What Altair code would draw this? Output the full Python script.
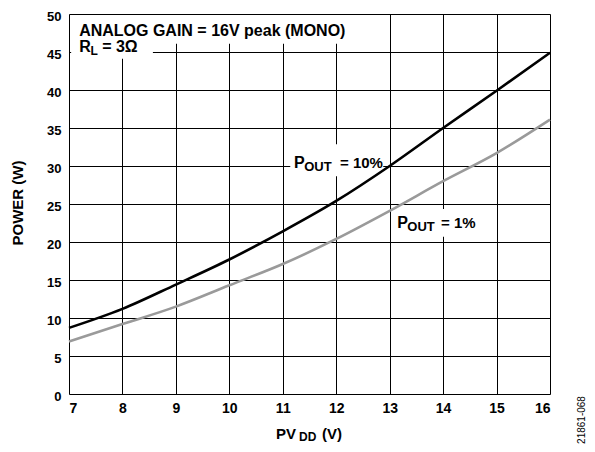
import altair as alt
import pandas as pd

# ---- data ----
pvdd = [7, 8, 9, 10, 11, 12, 13, 14, 15, 16]
power_10pct = [8.7, 11.2, 14.4, 17.7, 21.4, 25.4, 30.0, 35.0, 39.9, 44.9]
power_1pct = [6.9, 9.2, 11.5, 14.3, 17.1, 20.4, 24.1, 28.0, 31.7, 36.1]
series_names = ["10%", "1%"]
series_colors = ["#000000", "#9a9a9a"]
x_ticks = list(range(7, 17))
y_ticks = list(range(0, 51, 5))

# annotation text pieces (data coordinates) : text, x, y, font size
ann_text = ["ANALOG GAIN = 16V peak (MONO)", "R", "L", "= 3Ω",
            "P", "OUT", "= 10%",
            "P", "OUT", "= 1%"]
ann_x = [7.19, 7.19, 7.40, 7.62,
         11.21, 11.40, 12.07,
         13.14, 13.33, 13.96]
ann_y = [47.1, 44.95, 44.55, 44.95,
         29.7, 29.3, 29.7,
         21.9, 21.5, 21.9]
ann_fs = [16, 16, 12, 16,
          16, 13, 15,
          16, 13, 15]

# white label backgrounds (data coordinates)
box_x1 = [7.04, 7.04, 11.14, 13.06]
box_x2 = [12.26, 8.57, 12.88, 14.69]
box_y1 = [46.07, 44.1, 28.66, 20.68]
box_y2 = [49.88, 46.1, 32.85, 24.35]

# outside texts (pixel positions relative to plot area)
out_text = ["PV", "DD", "(V)", "POWER (W)", "21861-068"]
out_px = [207, 230, 253, -51, 513]
out_py = [425, 427, 425, 189, 406]
out_fs = [15, 12, 15, 15, 10]
out_angle = [0, 0, 0, 270, 270]
out_weight = ["bold", "bold", "bold", "bold", "normal"]
out_align = ["left", "left", "left", "center", "center"]

FONT = "Liberation Sans"

lines_df = pd.DataFrame({
    "x": pvdd * 2,
    "y": power_10pct + power_1pct,
    "series": [series_names[0]] * len(pvdd) + [series_names[1]] * len(pvdd),
})
ann_df = pd.DataFrame({"t": ann_text, "x": ann_x, "y": ann_y, "fs": ann_fs})
box_df = pd.DataFrame({"x": box_x1, "x2": box_x2, "y": box_y1, "y2": box_y2})

xscale = alt.Scale(domain=[7, 16], nice=False, zero=False)
yscale = alt.Scale(domain=[0, 50], nice=False, zero=True)

xaxis = alt.Axis(values=x_ticks, format="d", title=None, grid=True, gridColor="#000000",
                 gridWidth=1, gridOpacity=1, domain=False, ticks=False,
                 labelFont=FONT, labelFontSize=14, labelFontWeight="bold",
                 labelColor="#000000", labelPadding=7)
yaxis = alt.Axis(values=y_ticks, format="d", title=None, grid=True, gridColor="#000000",
                 gridWidth=1, gridOpacity=1, domain=False, ticks=False,
                 labelFont=FONT, labelFontSize=13, labelFontWeight="bold",
                 labelColor="#000000", labelPadding=8, labelOffset=2)

boxes = alt.Chart(box_df).mark_rect(color="white").encode(
    x=alt.X("x:Q", scale=xscale, axis=xaxis),
    x2="x2:Q",
    y=alt.Y("y:Q", scale=yscale, axis=yaxis),
    y2="y2:Q",
)

lines = alt.Chart(lines_df).mark_line(strokeWidth=2.6, interpolate="monotone").encode(
    x=alt.X("x:Q", scale=xscale, axis=xaxis),
    y=alt.Y("y:Q", scale=yscale, axis=yaxis),
    color=alt.Color("series:N", scale=alt.Scale(domain=series_names, range=series_colors),
                    legend=None),
)

ann = alt.Chart(ann_df).mark_text(align="left", baseline="alphabetic", font=FONT,
                                  fontWeight="bold", color="#000000").encode(
    x=alt.X("x:Q", scale=xscale, axis=xaxis),
    y=alt.Y("y:Q", scale=yscale, axis=yaxis),
    text="t:N",
    size=alt.Size("fs:Q", scale=None),
)

outside_layers = []
for i in range(len(out_text)):
    d = pd.DataFrame({"t": [out_text[i]], "px": [out_px[i]], "py": [out_py[i]]})
    outside_layers.append(
        alt.Chart(d).mark_text(
            align=out_align[i], baseline="alphabetic" if out_angle[i] == 0 else "middle",
            font=FONT, fontWeight=out_weight[i], fontSize=out_fs[i],
            angle=out_angle[i], color="#000000"
        ).encode(
            x=alt.X("px:Q", scale=None),
            y=alt.Y("py:Q", scale=None),
            text="t:N",
        )
    )

chart = alt.layer(boxes, lines, ann, *outside_layers).properties(
    width=481, height=380,
    autosize=alt.AutoSizeParams(type="none"),
    padding={"left": 61, "top": 6, "right": 37, "bottom": 50},
).configure_view(
    stroke="#000000", strokeWidth=2
).configure(background="white")

chart.save("out.html", embed_options={"renderer": "svg", "actions": False})
